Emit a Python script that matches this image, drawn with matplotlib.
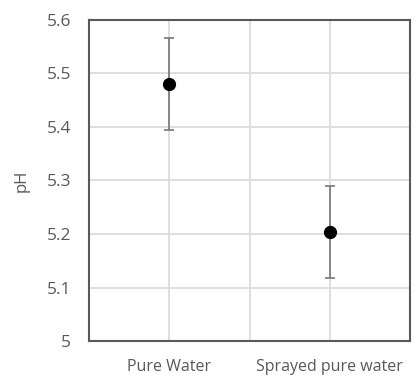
import matplotlib.pyplot as plt

# data
categories = ['Pure Water', 'Sprayed pure water']
ph_mean = [5.48, 5.203]
ph_err = [0.086, 0.086]

plt.rcParams['font.family'] = ['Open Sans', 'DejaVu Sans']

fig = plt.figure(figsize=(4.2, 3.77), dpi=100)
ax = fig.add_axes([89/420, 1 - 341/377, 321/420, 321/377])

xpos = [1, 3]
ax.errorbar(xpos, ph_mean, yerr=ph_err, fmt='o', color='black', markersize=8.5,
            ecolor='#7f7f7f', elinewidth=1.3, capsize=3.5, capthick=1.3, zorder=3)

ax.set_xlim(0, 4)
ax.set_ylim(5, 5.6)
ax.set_yticks([5, 5.1, 5.2, 5.3, 5.4, 5.5, 5.6])
ax.set_yticklabels(['5', '5.1', '5.2', '5.3', '5.4', '5.5', '5.6'])
ax.set_xticks([1, 2, 3])
ax.set_xticklabels([categories[0], '', categories[1]])
ax.tick_params(axis='both', length=0, colors='#595959')
ax.tick_params(axis='y', labelsize=12.5, pad=13)
ax.tick_params(axis='x', labelsize=11.5, pad=13)
ax.grid(True, color='#d9d9d9', linewidth=1.2)
ax.set_axisbelow(True)
for s in ax.spines.values():
    s.set_color('#595959')
    s.set_linewidth(1.5)

ax.set_ylabel('pH', fontsize=12, color='#595959', labelpad=12)

fig.savefig('out.png', dpi=100)
